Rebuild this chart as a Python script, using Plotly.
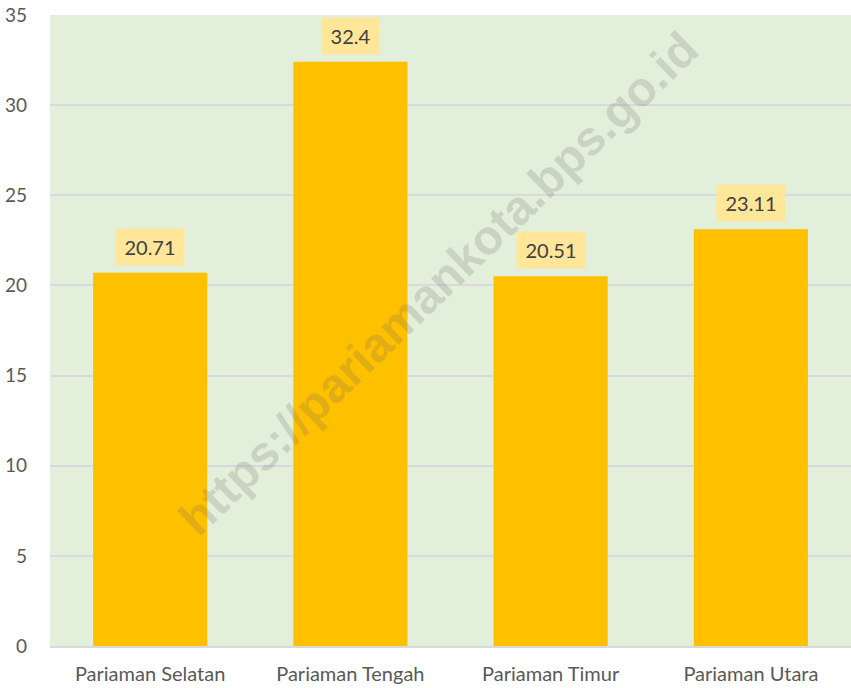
import plotly.graph_objects as go

categories = ["Pariaman Selatan", "Pariaman Tengah", "Pariaman Timur", "Pariaman Utara"]
values = [20.71, 32.4, 20.51, 23.11]
value_labels = ["20.71", "32.4", "20.51", "23.11"]
y_ticks = [0, 5, 10, 15, 20, 25, 30, 35]
watermark = "https://pariamankota.bps.go.id"

FONT = "Lato"

fig = go.Figure()
fig.add_trace(go.Bar(
    x=categories, y=values,
    marker=dict(color="#FFC000", line=dict(width=0)),
    width=0.57,
    hoverinfo="x+y",
))

annotations = []
for c, v, t in zip(categories, values, value_labels):
    annotations.append(dict(
        x=c, y=v, xref="x", yref="y", text=t, showarrow=False,
        yanchor="bottom", yshift=7,
        font=dict(family=FONT, size=20, color="#404040"),
        bgcolor="#FFE699", borderpad=0,
        width=11 * len(t) + 13, height=36,
    ))

annotations.append(dict(
    x=0.485, y=0.575, xref="paper", yref="paper", text="<b>" + watermark + "</b>",
    showarrow=False, textangle=-44,
    font=dict(family="Liberation Sans", size=48, color="rgba(100,100,100,0.2)"),
))

fig.update_layout(
    width=851, height=688,
    margin=dict(l=50, r=0, t=15, b=42),
    paper_bgcolor="white",
    plot_bgcolor="#E2EFDA",
    showlegend=False,
    bargap=0.43,
    annotations=annotations,
    xaxis=dict(
        showgrid=False, showline=True, linecolor="#D9D9D9", linewidth=2,
        ticks="", tickfont=dict(family=FONT, size=20, color="#595959"),
        ticklabelstandoff=9,
    ),
    yaxis=dict(
        range=[0, 35], tickvals=y_ticks, showgrid=True, gridcolor="#D9D9DD", gridwidth=2,
        zeroline=False, showline=False, ticks="",
        tickfont=dict(family=FONT, size=19, color="#595959"),
        ticklabelstandoff=22,
    ),
)

fig.write_html("out.html", config={"displayModeBar": False},
               post_script="document.body.style.margin='0';")
